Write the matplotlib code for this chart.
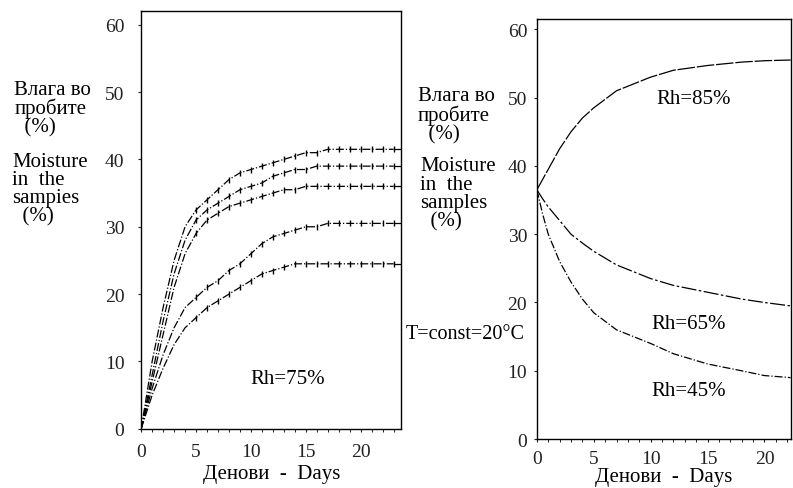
import numpy as np
import matplotlib.pyplot as plt
from matplotlib.ticker import MultipleLocator

plt.rcParams['font.family'] = ['Liberation Serif', 'DejaVu Serif']

# left panel: moisture uptake at Rh=75%, five samples
days_l = [0, 1, 2, 3, 4, 5, 6, 7, 8, 9, 10, 11, 12, 13, 14, 15, 16, 17, 18, 19, 20, 21, 22, 23, 23.7]
s1 = [0, 10, 18, 25, 30, 32.5, 34, 35.5, 37, 38, 38.5, 39, 39.5, 40, 40.5, 41, 41, 41.5, 41.5, 41.5, 41.5, 41.5, 41.5, 41.5, 41.5]
s2 = [0, 8, 16, 23, 28, 31, 32.5, 33.5, 34.5, 35.5, 36, 36.5, 37.5, 38, 38.5, 38.5, 39, 39, 39, 39, 39, 39, 39, 39, 39]
s3 = [0, 7, 14, 21, 26, 29, 31, 32, 33, 33.5, 34, 34.5, 35, 35.5, 35.5, 36, 36, 36, 36, 36, 36, 36, 36, 36, 36]
s4 = [0, 6, 11, 15, 18, 19.5, 21, 22, 23.5, 24.5, 26, 27.5, 28.5, 29, 29.5, 30, 30, 30.5, 30.5, 30.5, 30.5, 30.5, 30.5, 30.5, 30.5]
s5 = [0, 5, 9, 12.5, 15, 16.5, 18, 19, 20, 21, 22, 23, 23.5, 24, 24.5, 24.5, 24.5, 24.5, 24.5, 24.5, 24.5, 24.5, 24.5, 24.5, 24.5]
left_series = [s1, s2, s3, s4, s5]

# right panel: moisture change from 36.5% at different Rh
days_r = [0, 0.5, 1, 2, 3, 4, 5, 7, 10, 12, 15, 18, 20, 22.3]
rh85 = [36.5, 38, 39.5, 42.5, 45, 47, 48.5, 51, 53, 54, 54.7, 55.2, 55.4, 55.5]
rh65 = [36.5, 35.2, 34, 32, 30, 28.7, 27.5, 25.5, 23.5, 22.5, 21.5, 20.5, 20, 19.5]
rh45 = [36.5, 33, 30, 26, 23, 20.5, 18.5, 16, 14, 12.5, 11, 10, 9.3, 9]

fig = plt.figure(figsize=(7.93, 4.89), dpi=100)
ax1 = fig.add_axes([0.178, 0.121, 0.328, 0.854])
ax2 = fig.add_axes([0.677, 0.100, 0.320, 0.859])

for s in left_series:
    ax1.plot(days_l[:-1], s[:-1], color='black', linestyle='-.', linewidth=0.9,
             marker='|', markersize=5, markevery=list(range(5, 24)))
    ax1.plot(days_l[-2:], s[-2:], color='black', linewidth=0.9)

ax2.plot(days_r, rh85, color='black', linewidth=0.9, linestyle=(0, (14, 1.5)))
ax2.plot(days_r, rh65, color='black', linewidth=0.9, linestyle=(0, (12, 2, 2, 2)))
ax2.plot(days_r, rh45, color='black', linewidth=0.9, linestyle='-.')

for ax, xmax, ymax, pad, xpad, lpad in [(ax1, 23.7, 62, 10, 8, 3), (ax2, 22.3, 61.5, 5, 6, 0)]:
    ax.set_xlim(0, xmax)
    ax.set_ylim(0, ymax)
    ax.xaxis.set_major_locator(MultipleLocator(5))
    ax.xaxis.set_minor_locator(MultipleLocator(1))
    ax.yaxis.set_major_locator(MultipleLocator(10))
    ax.tick_params(axis='both', which='major', labelsize=14, length=2, width=0.8,
                   colors='#222222')
    ax.tick_params(axis='y', pad=pad)
    ax.tick_params(axis='x', pad=xpad)
    ax.tick_params(axis='x', which='minor', length=2, width=0.6)
    for sp in ax.spines.values():
        sp.set_linewidth(1.0)
    ax.set_xlabel('Денови  -  Days', fontsize=15, labelpad=lpad)

ax1.text(0.42, 0.11, 'Rh=75%', transform=ax1.transAxes, fontsize=15)
ax2.text(0.47, 0.80, 'Rh=85%', transform=ax2.transAxes, fontsize=15)
ax2.text(0.45, 0.265, 'Rh=65%', transform=ax2.transAxes, fontsize=15)
ax2.text(0.45, 0.105, 'Rh=45%', transform=ax2.transAxes, fontsize=15)

fig.text(0.018, 0.835, 'Влага во\nпробите\n  (%)', fontsize=15, va='top', linespacing=0.95)
fig.text(0.015, 0.688, 'Moisture\nin  the\nsampies\n  (%)', fontsize=15, va='top', linespacing=0.95)
fig.text(0.527, 0.822, 'Влага во\nпробите\n  (%)', fontsize=15, va='top', linespacing=0.95)
fig.text(0.530, 0.678, 'Moisture\nin  the\nsamples\n  (%)', fontsize=15, va='top', linespacing=0.95)
fig.text(0.511, 0.315, 'T=const=20°C', fontsize=14.5, va='center')

fig.savefig('out.png', dpi=100)
